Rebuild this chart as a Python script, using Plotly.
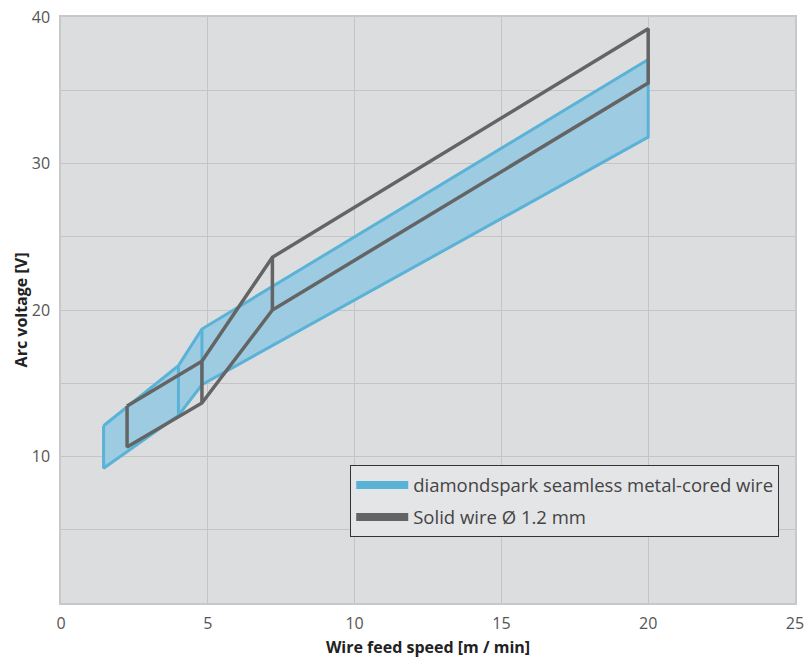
import plotly.graph_objects as go

# Blue band (diamondspark seamless metal-cored wire): outline vertices
blue_x = [1.45, 4.0, 4.8, 20.0, 20.0, 4.8, 4.0, 1.45, 1.45]
blue_y = [12.1, 16.2, 18.7, 37.1, 31.8, 14.9, 12.8, 9.2, 12.1]
# Blue inner vertical separators
blue_sep_x = [4.0, 4.0, None, 4.8, 4.8]
blue_sep_y = [16.2, 12.8, None, 18.7, 14.9]

# Gray band (Solid wire Ø 1.2 mm): outline vertices
gray_x = [2.25, 4.8, 7.2, 20.0, 20.0, 7.2, 4.8, 2.25, 2.25]
gray_y = [13.45, 16.5, 23.6, 39.2, 35.5, 20.0, 13.65, 10.65, 13.45]
gray_sep_x = [4.8, 4.8, None, 7.2, 7.2]
gray_sep_y = [16.5, 13.65, None, 23.6, 20.0]

x_ticks = [0, 5, 10, 15, 20, 25]
y_ticks = [5, 10, 15, 20, 25, 30, 35, 40]
y_ticktext = ["", "10", "", "20", "", "30", "", "40"]

BLUE_LINE = "#5ab3d6"
BLUE_FILL = "#9ccbe2"
GRAY_LINE = "#646464"
FONT = "Open Sans"

fig = go.Figure()
fig.add_trace(go.Scatter(x=blue_x, y=blue_y, mode="lines", fill="toself",
                         fillcolor=BLUE_FILL, line=dict(color=BLUE_LINE, width=3),
                         showlegend=False, hoverinfo="skip"))
fig.add_trace(go.Scatter(x=blue_sep_x, y=blue_sep_y, mode="lines",
                         line=dict(color=BLUE_LINE, width=3),
                         showlegend=False, hoverinfo="skip"))
fig.add_trace(go.Scatter(x=gray_x, y=gray_y, mode="lines",
                         line=dict(color=GRAY_LINE, width=3.5),
                         showlegend=False, hoverinfo="skip"))
fig.add_trace(go.Scatter(x=gray_sep_x, y=gray_sep_y, mode="lines",
                         line=dict(color=GRAY_LINE, width=3.5),
                         showlegend=False, hoverinfo="skip"))
# legend entries
fig.add_trace(go.Scatter(x=[None], y=[None], mode="lines", legendgroup="a",
                         line=dict(color=BLUE_LINE, width=8),
                         name="diamondspark seamless metal-cored wire"))
fig.add_trace(go.Scatter(x=[None], y=[None], mode="lines", legendgroup="b",
                         line=dict(color=GRAY_LINE, width=8),
                         name="Solid wire Ø 1.2 mm"))

fig.update_layout(
    width=805, height=658,
    margin=dict(l=61, r=10, t=17, b=55),
    paper_bgcolor="white",
    plot_bgcolor="#dcdddf",
    font=dict(family=FONT, size=16, color="#444"),
    legend=dict(x=0.9785, y=0.112, xanchor="right", yanchor="bottom",
                bgcolor="#e4e5e7", bordercolor="#333", borderwidth=1,
                font=dict(size=18.5, color="#444"), tracegroupgap=5,
                itemwidth=52),
    xaxis=dict(range=[0, 25], tickvals=x_ticks, showgrid=True,
               gridcolor="#c4c4c6", gridwidth=1, zeroline=False,
               showline=True, mirror=True, linecolor="#c8c8ca", linewidth=1.5,
               ticks="", ticklabelstandoff=5, automargin=False,
               tickfont=dict(size=16, color="#555"),
               title=dict(text="<b>Wire feed speed [m / min]</b>",
                          font=dict(size=16, color="#222"), standoff=14)),
    yaxis=dict(range=[0, 40], tickvals=y_ticks, ticktext=y_ticktext,
               showgrid=True, gridcolor="#c4c4c6", gridwidth=1, zeroline=False,
               showline=True, mirror=True, linecolor="#c8c8ca", linewidth=1.5,
               ticks="", ticklabelstandoff=6, automargin=False,
               tickfont=dict(size=16, color="#555"),
               title=dict(text="<b>Arc voltage [V]</b>",
                          font=dict(size=16, color="#222"), standoff=0)),
)

fig.write_html("out.html")
